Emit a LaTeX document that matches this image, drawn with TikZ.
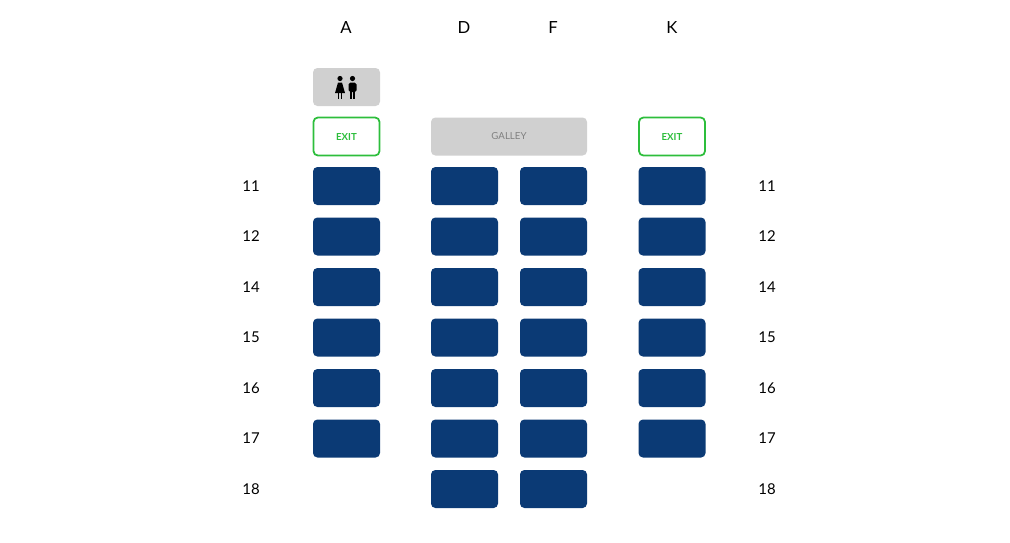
\documentclass[tikz,border=0pt]{standalone}
\usepackage{fontspec}
\setmainfont{Lato}
\definecolor{seatblue}{HTML}{0B3A75}
\definecolor{exitgreen}{HTML}{2DBE3C}
\definecolor{boxgray}{HTML}{D0D0D0}
\tikzset{
  seat/.style={fill=seatblue, rounded corners=2.5, minimum width=67*0.02cm, minimum height=38*0.02cm, inner sep=0},
  exitbox/.style={draw=exitgreen, line width=1pt, fill=white, rounded corners=2.5, minimum width=66*0.02cm, minimum height=38*0.02cm, inner sep=0, text=exitgreen, font=\bfseries\fontsize{5.5}{6}\selectfont},
  graybox/.style={fill=boxgray, rounded corners=2.5, minimum height=38*0.02cm, inner sep=0},
  collabel/.style={font=\fontsize{9.5}{10}\selectfont},
  rowlabel/.style={font=\fontsize{8.5}{9}\selectfont}
}
\begin{document}
\begin{tikzpicture}[x=0.02cm, y=-0.02cm]
\useasboundingbox (0,0) rectangle (1010,542);
% column letters
\node[collabel] (colA) at (346,28) {A};
\node[collabel] (colD) at (464,28) {D};
\node[collabel] (colF) at (553,28) {F};
\node[collabel] (colK) at (672,28) {K};

% lavatory, exits and galley
\node[graybox, minimum width=67*0.02cm] (lav) at (346.5,87) {};
\begin{scope}[fill=black]
  \fill (340,78.5) circle (2.6);
  \fill (338,82.5) -- (342,82.5) -- (345,93) -- (335,93) -- cycle;
  \fill (337.6,93) rectangle (339.2,99);
  \fill (340.8,93) rectangle (342.4,99);
  \fill (352.5,78.5) circle (2.6);
  \fill[rounded corners=1] (348.5,82.5) rectangle (356.5,92);
  \fill (349.8,91) rectangle (352,99);
  \fill (353,91) rectangle (355.2,99);
\end{scope}
\node[exitbox] (exitA) at (346.5,136.5) {EXIT};
\node[graybox, minimum width=156*0.02cm, text=gray, font=\fontsize{5.5}{6}\selectfont] (galley) at (509,136.5) {GALLEY};
\node[exitbox] (exitK) at (672,136.5) {EXIT};

% seat rows
\foreach \row/\y in {11/186, 12/236.5, 14/287, 15/337.5, 16/388, 17/438.5} {
  \node[rowlabel] (L\row) at (251,\y) {\row};
  \node[rowlabel] (R\row) at (767,\y) {\row};
  \node[seat] (s\row A) at (346.5,\y) {};
  \node[seat] (s\row D) at (464.5,\y) {};
  \node[seat] (s\row F) at (553.5,\y) {};
  \node[seat] (s\row K) at (672,\y) {};
}
\node[rowlabel] (L18) at (251,489) {18};
\node[rowlabel] (R18) at (767,489) {18};
\node[seat] (s18D) at (464.5,489) {};
\node[seat] (s18F) at (553.5,489) {};
\end{tikzpicture}
\end{document}
